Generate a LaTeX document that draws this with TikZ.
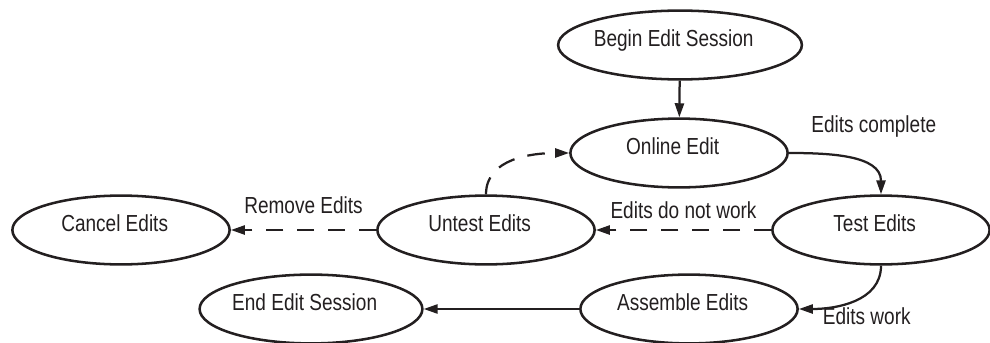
\documentclass[tikz,border=0pt]{standalone}
\usepackage{fontspec}
\setmainfont{Liberation Sans}[FakeStretch=0.82]
\usetikzlibrary{arrows.meta,shapes.geometric}
\definecolor{ink}{HTML}{231F20}

\begin{document}
\begin{tikzpicture}[x=0.025cm,y=-0.025cm,
    font=\fontsize{16.5}{19}\selectfont,
    state/.style={ellipse,draw=ink,line width=1.8pt,inner sep=0pt,
      minimum width=5.43cm,minimum height=1.72cm,text=ink,
      text height=12pt,text depth=10.2pt,
      execute at end node={\hspace*{9pt}}},
    lbl/.style={text=ink,inner sep=0pt},
    flow/.style={-{Triangle[length=10pt,width=6.5pt]},draw=ink,line width=1.6pt},
    back/.style={flow,dash pattern=on 12.5pt off 9.5pt}]
  \useasboundingbox (0,0) rectangle (990,342);
  \node[state] (begin)    at (680,45)  {Begin Edit Session};
  \node[state] (online)   at (679,153) {Online Edit};
  \node[state] (test)     at (881,230) {Test Edits};
  \node[state] (untest)   at (486,230) {Untest Edits};
  \node[state] (cancel)   at (121,230) {Cancel Edits};
  \node[state] (assemble) at (689,309) {Assemble Edits};
  \node[state] (finish)   at (311,309) {End Edit Session};
  \draw[flow] (begin) -- (online);
  \draw[flow] (online.east) to[out=0,in=90]
    node[lbl,pos=0.5,above=14.5pt,xshift=0.6cm] (complete) {Edits complete} (test.north);
  \draw[back] (test.west) --
    node[lbl,above=7.5pt] (notwork) {Edits do not work} (untest.east);
  \draw[back] (untest.west) --
    node[lbl,above=11pt] (remove) {Remove Edits} (cancel.east);
  \draw[back] (untest.north) to[out=90,in=180] (online.west);
  \draw[flow] (test.south) to[out=-90,in=0]
    node[lbl,pos=0.5,below=4pt,xshift=0.33cm] (work) {Edits work} (assemble.east);
  \draw[flow] (assemble) -- (finish);
\end{tikzpicture}
\end{document}
